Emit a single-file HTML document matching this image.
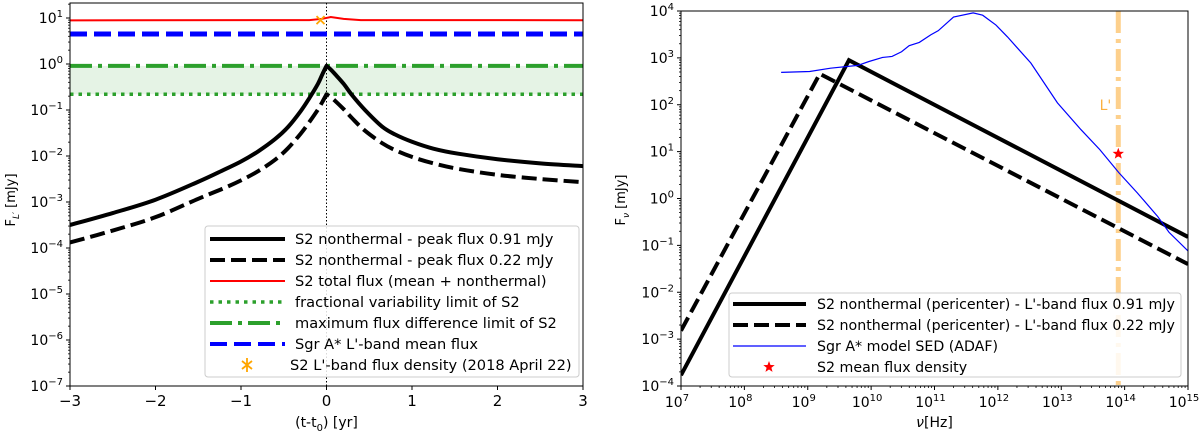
<!DOCTYPE html>
<html><head><meta charset="utf-8"><style>
html,body{margin:0;padding:0;background:#fff;}
svg{display:block;font-family:"DejaVu Sans","Liberation Sans",sans-serif;}
</style></head><body>
<svg id="chart" width="1200" height="434" viewBox="0 0 1200 434" xmlns="http://www.w3.org/2000/svg"></svg>
<script>
// ---------- Left panel data ----------
const leftTimes = [-3,-2.5,-2,-1.5,-1.2,-1,-0.8,-0.6,-0.45,-0.3,-0.2,-0.1,-0.05,0,0.05,0.1,0.2,0.3,0.45,0.65,0.8,1,1.25,1.54,2,2.5,3];
const leftSolidLog = [-3.5,-3.24,-2.95,-2.56,-2.3,-2.12,-1.9,-1.63,-1.37,-1.02,-0.74,-0.43,-0.23,-0.04,-0.12,-0.22,-0.43,-0.68,-1.0,-1.36,-1.53,-1.69,-1.84,-1.95,-2.07,-2.16,-2.22];
const leftDashedLog = [-3.88,-3.62,-3.33,-2.93,-2.7,-2.53,-2.33,-2.08,-1.83,-1.51,-1.26,-0.99,-0.83,-0.66,-0.72,-0.8,-0.98,-1.18,-1.45,-1.72,-1.87,-2.02,-2.16,-2.28,-2.41,-2.5,-2.57];
const redTimes = [-3,-0.2,-0.05,0.05,0.2,0.4,3];
const redValues = [8.9,9.0,9.6,10.5,9.6,9.0,8.95];
const blueMean = 4.5;
const maxDiffLimit = 0.91;
const fracVarLimit = 0.22;
const markerT = -0.07, markerF = 9.0;
const leftXTicks = [-3,-2,-1,0,1,2,3];
const leftYTicks = [1,0,-1,-2,-3,-4,-5,-6,-7];

// ---------- Right panel data ----------
const sedSolidLogNu = [7, 9.65, 15];
const sedSolidLogF = [-3.77, 2.95, -0.82];
const sedDashedLogNu = [7, 9.19, 15];
const sedDashedLogF = [-2.82, 2.66, -1.4];
const adafLogNu = [8.58,9.03,9.36,9.79,9.96,10.18,10.33,10.48,10.6,10.76,10.94,11.06,11.3,11.61,11.76,11.97,12.15,12.52,12.94,13.31,13.61,13.91,14.2,14.52,14.7,15];
const adafLogF = [2.69,2.71,2.78,2.84,2.92,3.01,3.03,3.13,3.26,3.33,3.49,3.58,3.87,3.96,3.91,3.70,3.45,2.89,2.04,1.47,1.04,0.55,0.12,-0.38,-0.72,-1.12];
const lBandLogNu = 13.9;
const starLogNu = 13.9, starF = 9.0;
const rightXTicks = [7,8,9,10,11,12,13,14,15];
const rightYTicks = [4,3,2,1,0,-1,-2,-3,-4];

const NS = "http://www.w3.org/2000/svg";
const svg = document.getElementById('chart');
function el(tag, attrs, parent){
  const e = document.createElementNS(NS, tag);
  for (const k in attrs) e.setAttribute(k, attrs[k]);
  (parent||svg).appendChild(e);
  return e;
}
function pathFrom(xs, ys){ return xs.map((x,i)=>(i?'L':'M')+x.toFixed(2)+','+ys[i].toFixed(2)).join(' '); }
// smooth path (Catmull-Rom), with a sharp corner at index `cusp`
function smoothPath(xs, ys, cusp){
  let d = 'M' + xs[0].toFixed(2) + ',' + ys[0].toFixed(2);
  for (let i = 0; i < xs.length - 1; i++) {
    const i0 = (i === 0 || i === cusp) ? i : i - 1;
    const i3 = (i + 1 === xs.length - 1 || i + 1 === cusp) ? i + 1 : i + 2;
    const c1x = xs[i] + (xs[i+1] - xs[i0]) / 6, c1y = ys[i] + (ys[i+1] - ys[i0]) / 6;
    const c2x = xs[i+1] - (xs[i3] - xs[i]) / 6, c2y = ys[i+1] - (ys[i3] - ys[i]) / 6;
    d += 'C' + c1x.toFixed(2) + ',' + c1y.toFixed(2) + ' ' + c2x.toFixed(2) + ',' + c2y.toFixed(2) + ' ' + xs[i+1].toFixed(2) + ',' + ys[i+1].toFixed(2);
  }
  return d;
}
function supLabel(g, x, y, base, exp, anchor){
  const t = el('text', {x:x, y:y, 'font-size':'14', 'text-anchor':anchor, fill:'#000'}, g);
  t.appendChild(document.createTextNode(base));
  const s = el('tspan', {dy:'-6', 'font-size':'10'}, t);
  s.textContent = exp;
  return t;
}

// ================= LEFT PANEL =================
const L = {x0:70, x1:583, y0:3, y1:386};
const lx = t => L.x0 + (t + 3) / 6 * (L.x1 - L.x0);
const ly = lg => 386 - (lg + 7) * 46;
const lyv = v => ly(Math.log10(v));
const cuspIdx = leftTimes.indexOf(0);

const gL = el('g', {});


const clipL = el('clipPath', {id:'clipL'});
el('rect', {x:L.x0, y:L.y0, width:L.x1-L.x0, height:L.y1-L.y0}, clipL);
const plotL = el('g', {'clip-path':'url(#clipL)'}, gL);

const band = el('rect', {x:L.x0, y:lyv(maxDiffLimit), width:L.x1-L.x0, height:lyv(fracVarLimit)-lyv(maxDiffLimit), fill:'#2ca02c', 'fill-opacity':'0.12'}, plotL);


const vline = el('line', {x1:lx(0), x2:lx(0), y1:L.y0, y2:L.y1, stroke:'#000', 'stroke-width':'1', 'stroke-dasharray':'1.5,2'}, plotL);


const red = el('path', {d:pathFrom(redTimes.map(lx), redValues.map(lyv)), fill:'none', stroke:'#ff0000', 'stroke-width':'2'}, plotL);


const blue = el('line', {x1:L.x0, x2:L.x1, y1:lyv(blueMean), y2:lyv(blueMean), stroke:'#0000ff', 'stroke-width':'5', 'stroke-dasharray':'17,7'}, plotL);


const gdd = el('line', {x1:L.x0, x2:L.x1, y1:lyv(maxDiffLimit), y2:lyv(maxDiffLimit), stroke:'#2ca02c', 'stroke-width':'4', 'stroke-dasharray':'22,6,4,6'}, plotL);


const gd = el('line', {x1:L.x0, x2:L.x1, y1:lyv(fracVarLimit), y2:lyv(fracVarLimit), stroke:'#2ca02c', 'stroke-width':'3.5', 'stroke-dasharray':'3.5,5'}, plotL);


const ls = el('path', {d:smoothPath(leftTimes.map(lx), leftSolidLog.map(ly), cuspIdx), fill:'none', stroke:'#000', 'stroke-width':'4', 'stroke-linejoin':'round'}, plotL);


const ld = el('path', {d:smoothPath(leftTimes.map(lx), leftDashedLog.map(ly), cuspIdx), fill:'none', stroke:'#000', 'stroke-width':'4', 'stroke-dasharray':'15,6', 'stroke-linejoin':'round'}, plotL);


const mx = lx(markerT), my = lyv(markerF);
const mk = el('path', {d:`M${mx-4},${my-4}L${mx+4},${my+4}M${mx-4},${my+4}L${mx+4},${my-4}`, stroke:'#ffa500', 'stroke-width':'1.8', fill:'none'}, plotL);



const frL = el('rect', {x:L.x0, y:L.y0, width:L.x1-L.x0, height:L.y1-L.y0, fill:'none', stroke:'#000', 'stroke-width':'1'}, gL);


const lxAxis = el('g', {}, gL);


leftXTicks.forEach(t => {
  el('line', {x1:lx(t), x2:lx(t), y1:L.y1, y2:L.y1+4, stroke:'#000'}, lxAxis);
  const tx = el('text', {x:lx(t), y:L.y1+20, 'font-size':'15', 'text-anchor':'middle'}, lxAxis);
  tx.textContent = t < 0 ? '\u2212' + Math.abs(t) : String(t);
});
const lxt = el('text', {x:(L.x0+L.x1)/2, y:427, 'font-size':'14', 'text-anchor':'middle'}, gL);


lxt.appendChild(document.createTextNode('(t-t'));
const sub0 = el('tspan', {dy:'4', 'font-size':'10'}, lxt); sub0.textContent = '0';
const rest0 = el('tspan', {dy:'-4'}, lxt); rest0.textContent = ') [yr]';
const lyAxis = el('g', {}, gL);


leftYTicks.forEach(p => {
  el('line', {x1:L.x0-4, x2:L.x0, y1:ly(p), y2:ly(p), stroke:'#000'}, lyAxis);
  supLabel(lyAxis, L.x0-7, ly(p)+5, '10', p < 0 ? '\u2212' + Math.abs(p) : String(p), 'end');
  for (let m = 2; m <= 9; m++) {
    const yy = ly(p + Math.log10(m) - 1);
    if (yy < L.y1 && yy > L.y0) el('line', {x1:L.x0-2, x2:L.x0, y1:yy, y2:yy, stroke:'#000', 'stroke-width':'0.8'}, lyAxis);
  }
});
for (let m = 2; m <= 9; m++) { const yy = ly(1 + Math.log10(m)); if (yy > L.y0) el('line', {x1:L.x0-2, x2:L.x0, y1:yy, y2:yy, stroke:'#000', 'stroke-width':'0.8'}, lyAxis); }
const lyt = el('text', {transform:'translate(15,200) rotate(-90)', 'font-size':'13', 'text-anchor':'middle'}, gL);


lyt.appendChild(document.createTextNode('F'));
const subL = el('tspan', {dy:'4', 'font-size':'9', 'font-style':'italic'}, lyt); subL.textContent = "L\u2032";
const restL = el('tspan', {dy:'-4'}, lyt); restL.textContent = ' [mJy]';

const legL = el('g', {}, gL);


el('rect', {x:205, y:226, width:374, height:151, rx:3, fill:'#fff', 'fill-opacity':'0.85', stroke:'#ccc'}, legL);
const legLItems = [
  ['S2 nonthermal - peak flux 0.91 mJy', {stroke:'#000','stroke-width':4}],
  ['S2 nonthermal - peak flux 0.22 mJy', {stroke:'#000','stroke-width':4,'stroke-dasharray':'15,6'}],
  ['S2 total flux (mean + nonthermal)', {stroke:'#ff0000','stroke-width':2}],
  ['fractional variability limit of S2', {stroke:'#2ca02c','stroke-width':3.5,'stroke-dasharray':'3.5,5'}],
  ['maximum flux difference limit of S2', {stroke:'#2ca02c','stroke-width':4,'stroke-dasharray':'22,6,4,6'}],
  ["Sgr A* L'-band mean flux", {stroke:'#0000ff','stroke-width':4,'stroke-dasharray':'17,7'}],
  ["S2 L'-band flux density (2018 April 22)", null]
];
legLItems.forEach((it, i) => {
  const y = 239 + i * 21;
  const g = el('g', {}, legL);
  
  
  if (it[1]) el('line', Object.assign({x1:210, x2:285, y1:y, y2:y}, it[1]), g);
  else el('path', {d:`M247,${y-7}L247,${y+7}M242,${y-4}L252,${y+4}M242,${y+4}L252,${y-4}`, stroke:'#ffa500', 'stroke-width':'1.8', fill:'none'}, g);
  const t = el('text', {x: it[1] ? 295 : 290, y:y+5, 'font-size':'14.6'}, g);
  t.textContent = it[0];
});

// ================= RIGHT PANEL =================
const R = {x0:681, x1:1188, y0:11, y1:386};
const rx = ln => R.x0 + (ln - 7) / 8 * (R.x1 - R.x0);
const ry = lf => R.y1 - (lf + 4) / 8 * (R.y1 - R.y0);
const gR = el('g', {});


const clipR = el('clipPath', {id:'clipR'});
el('rect', {x:R.x0, y:R.y0, width:R.x1-R.x0, height:R.y1-R.y0}, clipR);
const plotR = el('g', {'clip-path':'url(#clipR)'}, gR);

const lb = el('line', {x1:rx(lBandLogNu), x2:rx(lBandLogNu), y1:R.y0, y2:R.y1, stroke:'#fbb040', 'stroke-opacity':'0.6', 'stroke-width':'5', 'stroke-dasharray':'22,6,4,6'}, plotR);


const lbt = el('text', {x:rx(lBandLogNu)-7, y:110, 'font-size':'14', fill:'#fbb040', 'text-anchor':'end'}, gR);


lbt.textContent = "L'";
const rs = el('path', {d:pathFrom(sedSolidLogNu.map(rx), sedSolidLogF.map(ry)), fill:'none', stroke:'#000', 'stroke-width':'4', 'stroke-linejoin':'miter'}, plotR);


const rd = el('path', {d:pathFrom(sedDashedLogNu.map(rx), sedDashedLogF.map(ry)), fill:'none', stroke:'#000', 'stroke-width':'4', 'stroke-dasharray':'15,6'}, plotR);


const ad = el('path', {d:pathFrom(adafLogNu.map(rx), adafLogF.map(ry)), fill:'none', stroke:'#0000ff', 'stroke-width':'1.2'}, plotR);


function star(cx, cy, r){ let d=''; for(let k=0;k<10;k++){const a=-Math.PI/2+k*Math.PI/5; const rr=k%2?r*0.42:r; d+=(k?'L':'M')+(cx+rr*Math.cos(a)).toFixed(2)+','+(cy+rr*Math.sin(a)).toFixed(2);} return d+'Z'; }
const st = el('path', {d:star(rx(starLogNu), ry(Math.log10(starF)), 6), fill:'#ff0000'}, plotR);



const frR = el('rect', {x:R.x0, y:R.y0, width:R.x1-R.x0, height:R.y1-R.y0, fill:'none', stroke:'#000'}, gR);


const rxAxis = el('g', {}, gR);


rightXTicks.forEach(p => {
  el('line', {x1:rx(p), x2:rx(p), y1:R.y1, y2:R.y1+4, stroke:'#000'}, rxAxis);
  supLabel(rxAxis, rx(p)-4, R.y1+21, '10', String(p), 'middle');
  if (p < 15) for (let m = 2; m <= 9; m++) { const xx = rx(p + Math.log10(m)); el('line', {x1:xx, x2:xx, y1:R.y1, y2:R.y1+2, stroke:'#000', 'stroke-width':'0.8'}, rxAxis); }
});
const rxt = el('text', {x:(R.x0+R.x1)/2, y:427, 'font-size':'14', 'text-anchor':'middle'}, gR);


const nu = el('tspan', {'font-style':'italic'}, rxt); nu.textContent = '\u03bd';
const hz = el('tspan', {}, rxt); hz.textContent = '[Hz]';
const ryAxis = el('g', {}, gR);


rightYTicks.forEach(p => {
  el('line', {x1:R.x0-4, x2:R.x0, y1:ry(p), y2:ry(p), stroke:'#000'}, ryAxis);
  supLabel(ryAxis, R.x0-7, ry(p)+5, '10', p < 0 ? '\u2212' + Math.abs(p) : String(p), 'end');
  if (p < 4) for (let m = 2; m <= 9; m++) { const yy = ry(p + Math.log10(m)); el('line', {x1:R.x0-2, x2:R.x0, y1:yy, y2:yy, stroke:'#000', 'stroke-width':'0.8'}, ryAxis); }
});
const ryt = el('text', {transform:'translate(625,200) rotate(-90)', 'font-size':'13', 'text-anchor':'middle'}, gR);


ryt.appendChild(document.createTextNode('F'));
const subR = el('tspan', {dy:'4', 'font-size':'9', 'font-style':'italic'}, ryt); subR.textContent = '\u03bd';
const restR = el('tspan', {dy:'-4'}, ryt); restR.textContent = ' [mJy]';

const legR = el('g', {}, gR);


el('rect', {x:729, y:293, width:452, height:84, rx:3, fill:'#fff', 'fill-opacity':'0.85', stroke:'#ccc'}, legR);
const legRItems = [
  ["S2 nonthermal (pericenter) - L'-band flux 0.91 mJy", {stroke:'#000','stroke-width':4}],
  ["S2 nonthermal (pericenter) - L'-band flux 0.22 mJy", {stroke:'#000','stroke-width':4,'stroke-dasharray':'15,6'}],
  ['Sgr A* model SED (ADAF)', {stroke:'#0000ff','stroke-width':1.2}],
  ['S2 mean flux density', null]
];
legRItems.forEach((it, i) => {
  const y = 304 + i * 21;
  const g = el('g', {}, legR);
  
  
  if (it[1]) el('line', Object.assign({x1:733, x2:806, y1:y, y2:y}, it[1]), g);
  else el('path', {d:star(769, y, 6), fill:'#ff0000'}, g);
  const t = el('text', {x:817, y:y+5, 'font-size':'14.2'}, g);
  t.textContent = it[0];
});
</script>
</body></html>
